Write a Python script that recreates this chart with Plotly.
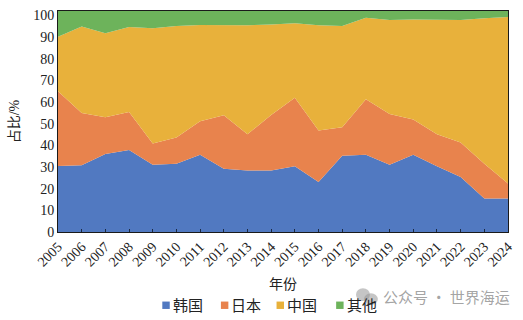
import plotly.graph_objects as go

years = list(range(2005, 2025))
korea = [30.5, 30.8, 36.0, 37.8, 31.0, 31.5, 35.7, 29.2, 28.4, 28.4,
         30.4, 23.1, 35.2, 35.7, 31.0, 35.7, 30.4, 25.4, 15.5, 15.5]
japan = [34.5, 24.1, 17.0, 17.6, 9.8, 12.1, 15.4, 24.7, 16.7, 25.6,
         31.6, 23.8, 13.2, 25.6, 23.5, 16.2, 14.7, 15.9, 16.0, 6.9]
china = [25.1, 39.9, 38.7, 39.2, 53.2, 51.5, 44.4, 41.6, 50.3, 41.8,
         34.3, 48.5, 46.7, 37.6, 43.3, 46.2, 53.0, 56.5, 67.1, 76.8]
other = [11.9, 7.2, 10.3, 7.4, 8.0, 6.9, 6.5, 6.5, 6.6, 6.2,
         5.7, 6.6, 6.9, 3.1, 4.2, 3.9, 3.9, 4.2, 3.4, 2.8]
names = ["韩国", "日本", "中国", "其他"]
colors = ["#5179C1", "#E8834D", "#E8B13B", "#6DB35B"]
yticks = list(range(0, 101, 10))

serif = "Liberation Serif, Noto Sans CJK SC, serif"
fig = go.Figure()
for name, vals, col in zip(names, [korea, japan, china, other], colors):
    fig.add_trace(go.Scatter(
        x=years, y=vals, name=name, stackgroup="one", mode="lines",
        line=dict(width=0, color=col), fillcolor=col, showlegend=False))

fig.update_layout(
    width=523, height=320,
    margin=dict(l=58, r=12, t=8, b=88),
    paper_bgcolor="white", plot_bgcolor="white",
    font=dict(family=serif, size=14, color="#222"),
)
fig.update_xaxes(
    range=[2005, 2024], tickvals=years, ticktext=[str(y) for y in years],
    tickangle=-45, tickfont=dict(size=14, family=serif),
    ticks="inside", ticklen=3, tickcolor="#1a2a44",
    showline=True, linecolor="#1a1a1a", linewidth=1, mirror=True,
    showgrid=False, zeroline=False,
    title=dict(text="年份", font=dict(size=14, family=serif), standoff=10),
)
fig.update_yaxes(
    range=[0, 102], tickvals=yticks,
    tickfont=dict(size=14, family=serif), ticks="",
    showline=True, linecolor="#1a1a1a", linewidth=1, mirror=True,
    showgrid=False, zeroline=False,
    title=dict(text="占比/%", font=dict(size=14, family=serif), standoff=10),
)

# legend built from small squares + text
W, H = 453.0, 224.0
def px(x):
    return (x - 58) / W
def py(y):
    return (232 - y) / H
sq_x = [163, 222, 278, 338]
for name, col, sx in zip(names, colors, sq_x):
    fig.add_shape(type="rect", xref="paper", yref="paper",
                  x0=px(sx), x1=px(sx + 7.5), y0=py(310), y1=py(302.5),
                  fillcolor=col, line=dict(width=0))
    fig.add_annotation(xref="paper", yref="paper", x=px(sx + 8.5), y=py(306.5),
                       text=name, showarrow=False, xanchor="left", yanchor="middle",
                       font=dict(size=15, family=serif, color="#222"))

# watermark
fig.add_shape(type="circle", xref="paper", yref="paper",
              x0=px(358), x1=px(372), y0=py(302), y1=py(289),
              fillcolor="rgba(150,150,150,0.55)", line=dict(width=0))
fig.add_shape(type="circle", xref="paper", yref="paper",
              x0=px(366), x1=px(380), y0=py(306), y1=py(294),
              fillcolor="rgba(150,150,150,0.55)", line=dict(width=0))
fig.add_annotation(xref="paper", yref="paper", x=px(383), y=py(297),
                   text="公众号 · 世界海运", showarrow=False,
                   xanchor="left", yanchor="middle",
                   font=dict(size=15, family="Noto Sans CJK SC", color="rgba(140,140,140,0.8)"))

fig.write_html("out.html")
